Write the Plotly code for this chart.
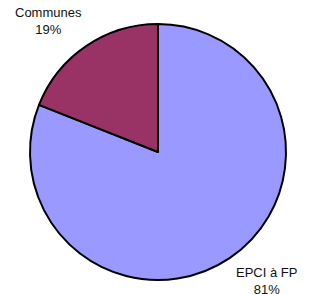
import plotly.graph_objects as go

labels = ["EPCI à FP", "Communes"]
values = [81, 19]
colors = ["#9999FF", "#993366"]
label_pos = [(266, 281), (48, 21)]  # pixel centres of outside labels

W, H = 310, 294
cx, cy, r = 158, 152, 128

fig = go.Figure(go.Pie(
    labels=labels, values=values, sort=False, direction="clockwise",
    rotation=0, textinfo="none", hoverinfo="label+percent",
    marker=dict(colors=colors, line=dict(color="black", width=2)),
    domain=dict(x=[(cx - r) / W, (cx + r) / W], y=[1 - (cy + r) / H, 1 - (cy - r) / H]),
    showlegend=False,
))

for lab, val, (px, py) in zip(labels, values, label_pos):
    fig.add_annotation(x=px / W, y=1 - py / H, xref="paper", yref="paper",
                       xanchor="center", yanchor="middle",
                       text=f"{lab}<br>{val}%", showarrow=False,
                       font=dict(family="Arial, Liberation Sans", size=13, color="#111111"),
                       align="center")

fig.update_layout(width=W, height=H, margin=dict(l=0, r=0, t=0, b=0),
                  paper_bgcolor="white", plot_bgcolor="white")
fig.write_html("out.html", config={"displayModeBar": False},
               post_script="document.body.style.margin='0';")
